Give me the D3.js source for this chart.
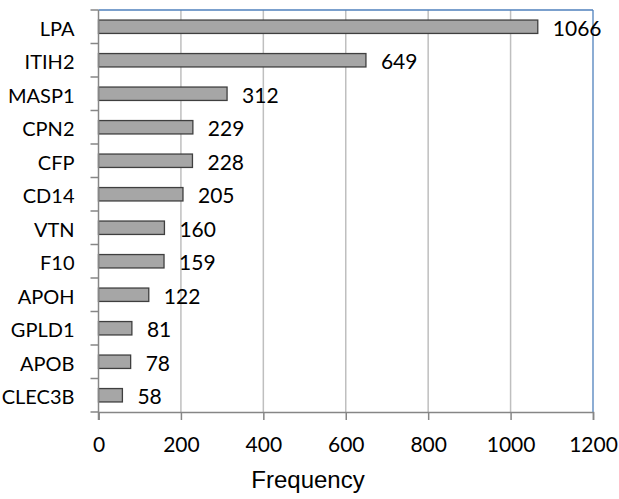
<!DOCTYPE html>
<html><head><meta charset="utf-8">
<script src="https://cdn.jsdelivr.net/npm/d3@7"></script>
<style>body{margin:0;background:#fff;} svg{display:block;} text{font-family:Lato, "Liberation Sans", sans-serif;fill:#000;}</style>
</head><body>
<script>
const categories = ["LPA","ITIH2","MASP1","CPN2","CFP","CD14","VTN","F10","APOH","GPLD1","APOB","CLEC3B"];
const values = [1066,649,312,229,228,205,160,159,122,81,78,58];
const xTicks = [0,200,400,600,800,1000,1200];
const xTitle = "Frequency";

const W=619,H=499;
const m={left:98.5,right:26,top:10,bottom:87};
const svg=d3.select("body").append("svg").attr("width",W).attr("height",H);
const x=d3.scaleLinear().domain([0,1200]).range([m.left,W-m.right]);
const y=d3.scaleBand().domain(categories).range([m.top,H-m.bottom]).paddingInner(0.6).paddingOuter(0.3);

// gridlines
svg.append("g").selectAll("line").data(xTicks.slice(1,-1)).join("line")
 .attr("x1",d=>x(d)).attr("x2",d=>x(d)).attr("y1",m.top).attr("y2",H-m.bottom)
 .attr("stroke","#bfbfbf").attr("stroke-width",1.5);

// border top/right blue
svg.append("line").attr("x1",m.left).attr("x2",x(1200)).attr("y1",m.top).attr("y2",m.top).attr("stroke","#4f81bd").attr("stroke-width",1.3);
svg.append("line").attr("x1",x(1200)).attr("x2",x(1200)).attr("y1",m.top).attr("y2",H-m.bottom).attr("stroke","#4f81bd").attr("stroke-width",1.3);

// bars
svg.append("g").selectAll("rect").data(values).join("rect")
 .attr("x",x(0)).attr("y",(d,i)=>y(categories[i]))
 .attr("width",d=>x(d)-x(0)).attr("height",y.bandwidth())
 .attr("fill","#a6a6a6").attr("stroke","#3f3f3f").attr("stroke-width",1.3);

// value labels
svg.append("g").selectAll("text").data(values).join("text")
 .attr("x",d=>x(d)+15).attr("y",(d,i)=>y(categories[i])+y.bandwidth()/2+1.5)
 .attr("dy","0.36em").attr("font-size",21).text(d=>d);

// x axis
const xa=svg.append("g").attr("transform",`translate(0,${H-m.bottom})`)
 .call(d3.axisBottom(x).tickValues(xTicks).tickSize(8).tickPadding(17).tickFormat(d3.format("d")));
xa.select(".domain").attr("stroke","#868686").attr("stroke-width",1.5);
xa.selectAll(".tick line").attr("stroke","#868686").attr("stroke-width",1.5);
xa.selectAll("text").attr("font-size",21).attr("font-family","Lato");

// y axis with boundary ticks
const bounds=categories.map(c=>y(c)-y.step()*y.paddingInner()/2).concat([H-m.bottom]);
const ya=svg.append("g");
ya.append("line").attr("x1",m.left).attr("x2",m.left).attr("y1",m.top).attr("y2",H-m.bottom+8).attr("stroke","#868686").attr("stroke-width",1.5);
ya.selectAll("line.t").data(bounds).join("line").attr("class","t")
 .attr("x1",m.left-8).attr("x2",m.left).attr("y1",d=>d).attr("y2",d=>d).attr("stroke","#868686").attr("stroke-width",1.5);
ya.selectAll("text").data(categories).join("text")
 .attr("x",74.5).attr("y",d=>y(d)+y.bandwidth()/2+2).attr("dy","0.36em")
 .attr("text-anchor","end").attr("font-size",20).text(d=>d);

svg.append("text").attr("x",308).attr("y",488).attr("text-anchor","middle")
 .style("font-family","'Liberation Sans', Arial, sans-serif").attr("font-size",24).text(xTitle);
</script>
</body></html>
